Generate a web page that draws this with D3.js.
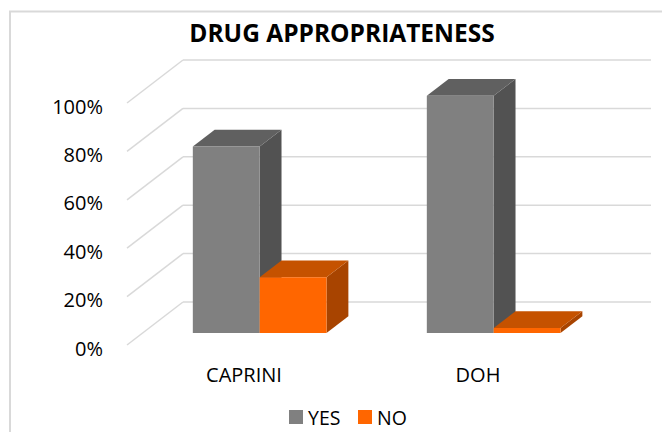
<!DOCTYPE html>
<html>
<head>
<meta charset="utf-8">
<title>Drug appropriateness</title>
<script src="https://cdn.jsdelivr.net/npm/d3@7"></script>
<style>
  body { margin: 0; background: #fff; }
  text { font-family: "Open Sans", sans-serif; fill: #000; }
</style>
</head>
<body>
<div id="chart"></div>
<script>

// Données
const categories = ["CAPRINI", "DOH"];
const series = ["YES", "NO"];
const yesValues = [0.77, 0.98];
const noValues = [0.23, 0.02];
const yTicks = [0, 0.2, 0.4, 0.6, 0.8, 1.0];

const width = 662;
const height = 432;

// Couleurs : face avant, dessus, côté
const colors = {
  YES: { front: "#808080", top: "#606060", side: "#525252" },
  NO:  { front: "#ff6600", top: "#c55200", side: "#a84400" }
};

const values = { YES: yesValues, NO: noValues };

const svg = d3.select("#chart").append("svg")
  .attr("width", width)
  .attr("height", height);

// Cadre
svg.append("rect")
  .attr("x", 10).attr("y", 11.5)
  .attr("width", 700).attr("height", 500)
  .attr("fill", "none")
  .attr("stroke", "#d9d9d9")
  .attr("stroke-width", 2);

// Titre
svg.append("text")
  .attr("x", 342).attr("y", 42)
  .attr("text-anchor", "middle")
  .style("font-weight", "bold")
  .style("font-size", "24.5px")
  .text("DRUG APPROPRIATENESS");

// Échelles (paroi du fond)
const x = d3.scaleBand().domain(categories).range([183, 651]);
const xs = d3.scaleBand().domain(series).range([0, x.bandwidth()])
  .paddingInner(0).paddingOuter(0.75);
const y = d3.scaleLinear().domain([0, 1]).range([302, 60]);

// Profondeur : 0 = fond, 1 = avant
const depthX = -56, depthY = 43;
const proj = (px, v, z) => [px + depthX * z, y(v) + depthY * z];
const zBack = 0.33, zFront = 0.72;

const grid = svg.append("g");

// Lignes de la paroi du fond
grid.selectAll(".back")
  .data(yTicks).enter().append("line")
  .attr("x1", x.range()[0]).attr("x2", x.range()[1])
  .attr("y1", d => y(d)).attr("y2", d => y(d))
  .attr("stroke", "#d9d9d9").attr("stroke-width", 1.5);

// Lignes de la paroi latérale
grid.selectAll(".side")
  .data(yTicks).enter().append("line")
  .attr("x1", d => proj(x.range()[0], d, 0)[0])
  .attr("y1", d => proj(x.range()[0], d, 0)[1])
  .attr("x2", d => proj(x.range()[0], d, 1)[0])
  .attr("y2", d => proj(x.range()[0], d, 1)[1])
  .attr("stroke", "#d9d9d9").attr("stroke-width", 1.5);

// Barres 3D
const bars = [];
categories.forEach((c, i) => {
  series.forEach(s => {
    bars.push({ cat: c, serie: s, value: values[s][i] });
  });
});

const pts = arr => arr.map(p => p.join(",")).join(" ");

const barG = svg.selectAll(".bar")
  .data(bars).enter().append("g");

barG.each(function(d) {
  const g = d3.select(this);
  const x0 = x(d.cat) + xs(d.serie);
  const x1 = x0 + xs.bandwidth();
  const v = d.value;
  const col = colors[d.serie];
  // côté droit
  g.append("polygon")
    .attr("points", pts([proj(x1, v, zFront), proj(x1, 0, zFront), proj(x1, 0, zBack), proj(x1, v, zBack)]))
    .attr("fill", col.side);
  // dessus
  g.append("polygon")
    .attr("points", pts([proj(x0, v, zFront), proj(x1, v, zFront), proj(x1, v, zBack), proj(x0, v, zBack)]))
    .attr("fill", col.top);
  // face avant
  g.append("polygon")
    .attr("points", pts([proj(x0, v, zFront), proj(x1, v, zFront), proj(x1, 0, zFront), proj(x0, 0, zFront)]))
    .attr("fill", col.front);
});

// Axe Y (à l'avant)
const yFront = d3.scaleLinear().domain([0, 1]).range([302 + depthY, 60 + depthY]);
const yAxis = svg.append("g")
  .attr("transform", `translate(${183 + depthX},0)`)
  .call(d3.axisLeft(yFront).tickValues(yTicks).tickFormat(d3.format(".0%")).tickSize(0).tickPadding(24));
yAxis.select(".domain").remove();
yAxis.selectAll("text")
  .attr("dy", "0.5em")
  .style("font-family", "'Open Sans', sans-serif")
  .style("font-size", "20px")
  .attr("fill", "#000");

// Axe X (catégories à l'avant du sol)
const xFront = d3.scaleBand().domain(categories).range([183 + depthX, 651 + depthX]);
const xAxis = svg.append("g")
  .attr("transform", `translate(0,${302 + depthY})`)
  .call(d3.axisBottom(xFront).tickSize(0).tickPadding(23));
xAxis.select(".domain").remove();
xAxis.selectAll("text")
  .style("font-family", "'Open Sans', sans-serif")
  .style("font-size", "20px")
  .attr("fill", "#000");

// Légende
const legendX = [289, 358];
const legend = svg.selectAll(".legend")
  .data(series).enter().append("g")
  .attr("transform", (d, i) => `translate(${legendX[i]},410)`);
legend.append("rect")
  .attr("width", 14).attr("height", 14)
  .attr("fill", d => colors[d].front);
legend.append("text")
  .attr("x", 19).attr("y", 14.5)
  .style("font-size", "19.5px")
  .text(d => d);

</script>
</body>
</html>
